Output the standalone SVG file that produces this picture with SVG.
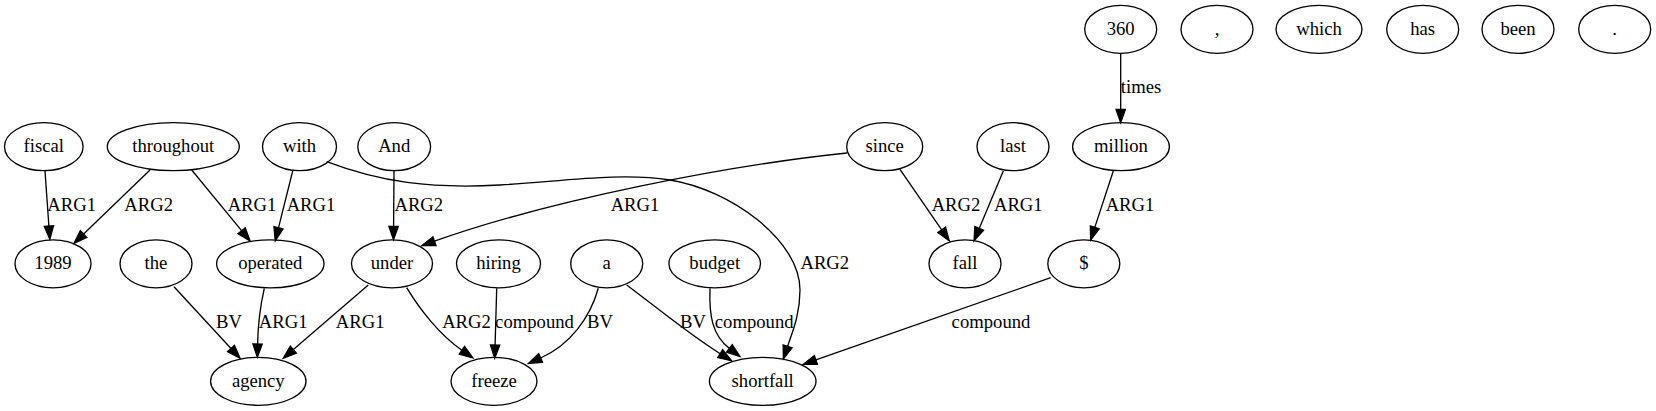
<svg xmlns="http://www.w3.org/2000/svg" width="1656" height="411" viewBox="0 0 1656 411" font-family="'Liberation Serif', 'DejaVu Serif', 'Times New Roman', Times, serif">
<style>
.node ellipse{fill:none;stroke:#000;stroke-width:1.33}
text{font-family:'Liberation Serif','DejaVu Serif','Times New Roman',Times,serif;font-size:18.67px;text-anchor:middle;fill:#000}
.edges path{fill:none;stroke:#000;stroke-width:1.33;marker-end:url(#arr)}
</style>
<defs>
<marker id="arr" markerUnits="userSpaceOnUse" markerWidth="16" markerHeight="12" refX="0" refY="0" viewBox="0 -6 16 12" orient="auto" overflow="visible">
<path d="M0,-4.67 L13.33,0 L0,4.67 Z" fill="#000" stroke="#000" stroke-width="1.33"/>
</marker>
</defs>
<rect width="1656" height="411" fill="#fff"/>
<g class="edges" id="edges">
<path d="M45,171 L48.9,226"/>
<path d="M150,170 L83.6,234.1"/>
<path d="M191.7,170 L241.6,230.7"/>
<path d="M292.7,171 L278.5,227.8"/>
<path d="M394,171 L393.6,226.4"/>
<path d="M326.7,161.7 C380,182 430,189 500,185 C560,181.6 620,172 670,180 C730,189.6 800,240 800,290 C800,315 792,333 787.6,346.3"/>
<path d="M847,153 C730,165 550,200 434.5,241.2"/>
<path d="M900,169.3 L941.7,229.8"/>
<path d="M1003.3,171 L979.2,228.4"/>
<path d="M1120.7,53.3 L1120.7,109.4"/>
<path d="M1113.3,171 L1094.8,227.4"/>
<path d="M1050.7,277.7 L815.9,359.9"/>
<path d="M174,286.7 L231,348.5"/>
<path d="M264.3,288.3 C260.5,305 258,322 257.6,344"/>
<path d="M368.3,285 L293.4,349.6"/>
<path d="M406.7,287.7 C420,310 440,335 461.9,350.3"/>
<path d="M496.7,288.3 L495.1,345"/>
<path d="M598.3,288.3 C590,318 570,345 540.6,358"/>
<path d="M626.7,285 C660,310 690,335 720.2,353.7"/>
<path d="M710,288.3 C709,315 712,335 729.4,348.4"/>
<text x="71.7" y="210.7">ARG1</text>
<text x="148.7" y="210.7">ARG2</text>
<text x="252" y="210.7">ARG1</text>
<text x="311" y="210.7">ARG1</text>
<text x="418.8" y="210.7">ARG2</text>
<text x="635" y="210.7">ARG1</text>
<text x="824.8" y="269.3">ARG2</text>
<text x="956" y="210.7">ARG2</text>
<text x="1018.3" y="210.7">ARG1</text>
<text x="1141" y="93.3">times</text>
<text x="1130" y="210.7">ARG1</text>
<text x="991" y="328">compound</text>
<text x="229" y="328">BV</text>
<text x="283.2" y="328">ARG1</text>
<text x="360.2" y="328">ARG1</text>
<text x="466.5" y="328">ARG2</text>
<text x="534.5" y="328">compound</text>
<text x="600" y="328">BV</text>
<text x="693" y="328">BV</text>
<text x="754.2" y="328">compound</text>
</g>
<g class="node" id="n360"><ellipse cx="1120.7" cy="29.3" rx="36" ry="24"/><text x="1120.7" y="34.9">360</text></g>
<g class="node" id="ncomma"><ellipse cx="1217" cy="29.3" rx="36" ry="24"/><text x="1217" y="34.9">,</text></g>
<g class="node" id="nwhich"><ellipse cx="1319" cy="29.3" rx="43" ry="24"/><text x="1319" y="34.9">which</text></g>
<g class="node" id="nhas"><ellipse cx="1422.7" cy="29.3" rx="36" ry="24"/><text x="1422.7" y="34.9">has</text></g>
<g class="node" id="nbeen"><ellipse cx="1518" cy="29.3" rx="36" ry="24"/><text x="1518" y="34.9">been</text></g>
<g class="node" id="nperiod"><ellipse cx="1614.7" cy="29.3" rx="36" ry="24"/><text x="1614.7" y="34.9">.</text></g>
<g class="node" id="nfiscal"><ellipse cx="43.8" cy="146.7" rx="39.3" ry="24"/><text x="43.8" y="152.3">fiscal</text></g>
<g class="node" id="nthroughout"><ellipse cx="173.3" cy="146.7" rx="66" ry="24"/><text x="173.3" y="152.3">throughout</text></g>
<g class="node" id="nwith"><ellipse cx="299.5" cy="146.7" rx="37" ry="24"/><text x="299.5" y="152.3">with</text></g>
<g class="node" id="nAnd"><ellipse cx="394.2" cy="146.7" rx="36.4" ry="24"/><text x="394.2" y="152.3">And</text></g>
<g class="node" id="nsince"><ellipse cx="884.7" cy="146.7" rx="38" ry="24"/><text x="884.7" y="152.3">since</text></g>
<g class="node" id="nlast"><ellipse cx="1013" cy="146.7" rx="36" ry="24"/><text x="1013" y="152.3">last</text></g>
<g class="node" id="nmillion"><ellipse cx="1121" cy="146.7" rx="48.4" ry="24"/><text x="1121" y="152.3">million</text></g>
<g class="node" id="n1989"><ellipse cx="53" cy="263.8" rx="38" ry="24"/><text x="53" y="269.4">1989</text></g>
<g class="node" id="nthe"><ellipse cx="156" cy="263.8" rx="36" ry="24"/><text x="156" y="269.4">the</text></g>
<g class="node" id="noperated"><ellipse cx="270.3" cy="263.8" rx="53.7" ry="24"/><text x="270.3" y="269.4">operated</text></g>
<g class="node" id="nunder"><ellipse cx="392" cy="263.8" rx="40.5" ry="24"/><text x="392" y="269.4">under</text></g>
<g class="node" id="nhiring"><ellipse cx="498.5" cy="263.8" rx="42" ry="24"/><text x="498.5" y="269.4">hiring</text></g>
<g class="node" id="na"><ellipse cx="606.7" cy="263.8" rx="36" ry="24"/><text x="606.7" y="269.4">a</text></g>
<g class="node" id="nbudget"><ellipse cx="714.7" cy="263.8" rx="45.8" ry="24"/><text x="714.7" y="269.4">budget</text></g>
<g class="node" id="nfall"><ellipse cx="965" cy="263.8" rx="36" ry="24"/><text x="965" y="269.4">fall</text></g>
<g class="node" id="ndollar"><ellipse cx="1083.8" cy="263.8" rx="36" ry="24"/><text x="1083.8" y="269.4">$</text></g>
<g class="node" id="nagency"><ellipse cx="258.3" cy="381.3" rx="47.7" ry="24"/><text x="258.3" y="386.9">agency</text></g>
<g class="node" id="nfreeze"><ellipse cx="494" cy="381.3" rx="43" ry="24"/><text x="494" y="386.9">freeze</text></g>
<g class="node" id="nshortfall"><ellipse cx="762.7" cy="381.3" rx="53.3" ry="24"/><text x="762.7" y="386.9">shortfall</text></g>
</svg>
